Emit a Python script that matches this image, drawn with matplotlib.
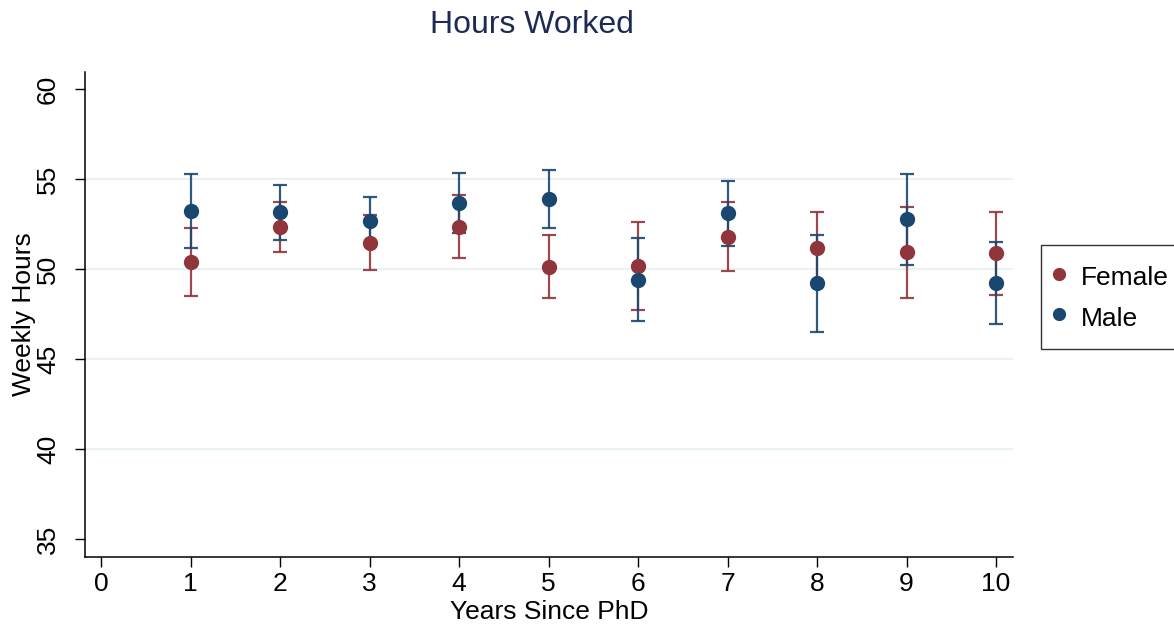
import matplotlib.pyplot as plt
import numpy as np

plt.rcParams['font.family'] = ['Liberation Sans', 'DejaVu Sans']

years = [1, 2, 3, 4, 5, 6, 7, 8, 9, 10]

female_mean = [50.41, 52.35, 51.46, 52.35, 50.13, 50.17, 51.78, 51.19, 50.93, 50.87]
female_lo = [48.50, 50.96, 49.94, 50.59, 48.39, 47.74, 49.87, 49.23, 48.41, 48.56]
female_hi = [52.29, 53.70, 53.00, 54.13, 51.87, 52.59, 53.70, 53.15, 53.46, 53.19]

male_mean = [53.22, 53.15, 52.68, 53.69, 53.87, 49.39, 53.09, 49.20, 52.76, 49.20]
male_lo = [51.15, 51.61, 51.37, 52.02, 52.26, 47.09, 51.28, 46.48, 50.22, 46.94]
male_hi = [55.26, 54.67, 54.02, 55.31, 55.50, 51.70, 54.89, 51.91, 55.26, 51.48]

groups = [
    ("Female", female_mean, female_lo, female_hi, "#90353b"),
    ("Male", male_mean, male_lo, male_hi, "#1a476f"),
]

fig = plt.figure(figsize=(11.74, 6.25), dpi=100)
ax = fig.add_axes([0.0724, 0.1088, 0.7905, 0.776])

for y in [40, 45, 50, 55]:
    ax.axhline(y, color="#eaf2f3", lw=1.6, zorder=0)

handles = []
for name, mean, lo, hi, col in groups:
    mean = np.array(mean)
    err = np.vstack([mean - np.array(lo), np.array(hi) - mean])
    ax.errorbar(years, mean, yerr=err, fmt="none", ecolor=col, elinewidth=1.6,
                capsize=4.7, capthick=1.6, alpha=0.9, zorder=2)
    h, = ax.plot(years, mean, "o", color=col, markersize=10, linestyle="none",
                 zorder=3, label=name)
    handles.append(h)

ax.set_xlim(-0.18, 10.19)
ax.set_ylim(34.0, 60.94)
ax.set_xticks(range(0, 11))
ax.set_yticks([35, 40, 45, 50, 55, 60])
ax.tick_params(axis="both", direction="out", length=7, width=1, labelsize=19, color="black")
ax.tick_params(axis="x", pad=4)
ax.tick_params(axis="y", pad=11)
for lbl in ax.get_yticklabels():
    lbl.set_rotation(90)
    lbl.set_va("center")

for side in ["top", "right"]:
    ax.spines[side].set_visible(False)
for side in ["left", "bottom"]:
    ax.spines[side].set_linewidth(1.1)

ax.set_xlabel("Years Since PhD", fontsize=19, labelpad=3)
ax.set_ylabel("Weekly Hours", fontsize=19, labelpad=0)

fig.text(532 / 1174, 1 - 25 / 625, "Hours Worked", ha="center", va="center",
         fontsize=23, color="#1e2a52")

leg = fig.legend(handles=handles, loc="upper left", bbox_to_anchor=(1041 / 1174, 1 - 245 / 625),
                 fontsize=19, frameon=True, fancybox=False, handletextpad=0.8,
                 handlelength=0.05, handleheight=1.3, borderpad=0.65, labelspacing=0.45,
                 markerscale=0.85, borderaxespad=0)
leg.get_frame().set_edgecolor("black")
leg.get_frame().set_linewidth(1.0)

fig.savefig("out.png", dpi=100)
